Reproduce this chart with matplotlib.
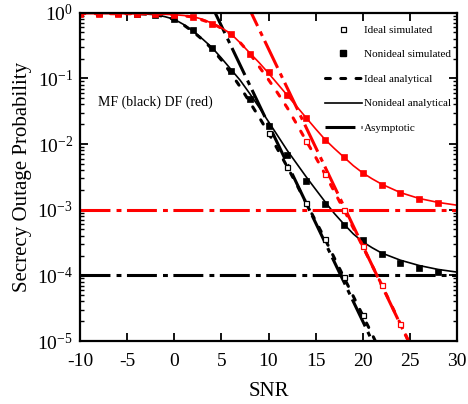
import matplotlib
matplotlib.use("Agg")
import matplotlib.pyplot as plt
from matplotlib.lines import Line2D
from matplotlib.ticker import LogLocator, LogFormatterSciNotation, NullFormatter

plt.rcParams["font.family"] = ["Liberation Serif", "DejaVu Serif"]
plt.rcParams["mathtext.fontset"] = "custom"
plt.rcParams["mathtext.rm"] = "Liberation Serif"
plt.rcParams["mathtext.it"] = "Liberation Serif:italic"

RED = "#ff0000"

# ---- MF (black) ----
snr_curve_mf = [-10, -8, -6, -4, -2, -1, 0, 1, 2, 3, 4, 5, 6, 7, 8, 9, 10, 11, 12, 13,
                14, 15, 16, 17, 18, 19, 20, 21, 22, 24, 26, 28, 30]
mf_nonideal_analytical = [1.0, 0.995, 0.989, 0.973, 0.933, 0.871, 0.794, 0.661, 0.525, 0.398,
                          0.295, 0.204, 0.138, 0.0933, 0.0589, 0.0363, 0.0219, 0.0132, 7.94e-3,
                          5.01e-3, 3.16e-3, 2.04e-3, 1.32e-3, 8.71e-4, 6.03e-4, 4.27e-4, 3.24e-4,
                          2.63e-4, 2.19e-4, 1.70e-4, 1.41e-4, 1.23e-4, 1.12e-4]

snr_ideal_mf = [-10, -8, -6, -4, -2, -1, 0, 1, 2, 3, 4, 5, 6, 7, 8, 9, 10, 11, 12, 13, 14,
                15, 16, 17, 18, 19, 20, 21, 22]
mf_ideal_analytical = [1.0, 0.995, 0.989, 0.973, 0.93, 0.87, 0.79, 0.65, 0.513, 0.389, 0.282,
                       0.19, 0.12, 0.0741, 0.0437, 0.0257, 0.0148, 8.13e-3, 4.47e-3, 2.40e-3,
                       1.26e-3, 6.76e-4, 3.55e-4, 1.82e-4, 9.33e-5, 4.79e-5, 2.45e-5, 1.26e-5,
                       6.31e-6]

snr_sim = [-10, -8, -6, -4, -2, 0, 2, 4, 6, 8, 10, 12, 14, 16, 18, 20, 22, 24, 26, 28]
mf_nonideal_sim = [1.0, 0.995, 0.99, 0.97, 0.92, 0.79, 0.54, 0.29, 0.129, 0.0479, 0.0186,
                   6.9e-3, 2.7e-3, 1.2e-3, 5.9e-4, 3.5e-4, 2.14e-4, 1.55e-4, 1.29e-4, 1.12e-4]

snr_ideal_sim_mf = [10, 12, 14, 16, 18, 20]
mf_ideal_sim = [0.0148, 4.47e-3, 1.26e-3, 3.6e-4, 9.3e-5, 2.5e-5]

snr_asym_mf = [4, 8, 12, 16, 20, 22]
mf_asymptotic = [1.26, 0.0794, 5.0e-3, 3.16e-4, 2.0e-5, 5.0e-6]
mf_floor = 1e-4

# ---- DF (red) ----
snr_curve_df = [-10, -8, -6, -4, -2, 0, 1, 2, 3, 4, 5, 6, 7, 8, 9, 10, 11, 12, 13, 14, 15,
                16, 17, 18, 19, 20, 21, 22, 24, 26, 28, 30]
df_nonideal_analytical = [0.966, 0.966, 0.965, 0.963, 0.958, 0.933, 0.908, 0.871, 0.794, 0.692,
                          0.589, 0.479, 0.347, 0.245, 0.174, 0.120, 0.0813, 0.055, 0.0372,
                          0.0251, 0.017, 0.0117, 8.51e-3, 6.31e-3, 4.68e-3, 3.63e-3, 2.95e-3,
                          2.45e-3, 1.82e-3, 1.48e-3, 1.29e-3, 1.17e-3]

snr_ideal_df = [-10, -8, -6, -4, -2, 0, 2, 4, 5, 6, 7, 8, 9, 10, 11, 12, 13, 14, 15, 16, 17,
                18, 19, 20, 21, 22, 23, 24, 25]
df_ideal_analytical = [0.966, 0.966, 0.965, 0.963, 0.958, 0.93, 0.86, 0.69, 0.58, 0.47, 0.35,
                       0.24, 0.151, 0.0955, 0.0589, 0.0355, 0.02, 0.0112, 6.31e-3, 3.47e-3,
                       1.86e-3, 1.0e-3, 5.25e-4, 2.75e-4, 1.41e-4, 7.24e-5, 3.63e-5, 1.82e-5,
                       9.12e-6]

df_nonideal_sim = [0.955, 0.955, 0.955, 0.955, 0.95, 0.93, 0.87, 0.68, 0.48, 0.234, 0.126,
                   0.0562, 0.0245, 0.0115, 6.3e-3, 3.63e-3, 2.4e-3, 1.78e-3, 1.45e-3, 1.26e-3]

snr_ideal_sim_df = [14, 16, 18, 20, 22, 24]
df_ideal_sim = [0.0112, 3.47e-3, 1.0e-3, 2.75e-4, 7.2e-5, 1.8e-5]

snr_asym_df = [6, 8, 12, 16, 20, 24, 26]
df_asymptotic = [4.47, 1.12, 0.0708, 4.47e-3, 2.82e-4, 1.78e-5, 4.47e-6]
df_floor = 1e-3

x_ticks = [-10, -5, 0, 5, 10, 15, 20, 25, 30]

# line styles
LW_THICK = 2.2
DOTS = (0, (1.6, 3.4))
DASHDOT = (0, (9.8, 2.0, 1.6, 1.8))

fig = plt.figure(figsize=(4.68, 4.04), dpi=100)
ax = fig.add_axes([80 / 468, 1 - 341 / 404, (457 - 80) / 468, (341 - 12.7) / 404])


def draw(color, snr_c, nonideal, snr_i, ideal, sim_nonideal, snr_is, sim_ideal,
         snr_a, asym, floor):
    ax.plot(snr_c, nonideal, color=color, lw=1.2, solid_capstyle="butt")
    ax.plot(snr_i, ideal, color=color, lw=LW_THICK, linestyle=DOTS, dash_capstyle="round")
    ax.plot(snr_a, asym, color=color, lw=LW_THICK, linestyle=DASHDOT, dash_capstyle="butt")
    ax.plot([x_ticks[0], x_ticks[-1]], [floor, floor], color=color, lw=LW_THICK,
            linestyle=DASHDOT, dash_capstyle="butt")
    ax.plot(snr_is, sim_ideal, linestyle="none", marker="s", ms=3.6, mfc="white",
            mec=color, mew=0.9)
    ax.plot(snr_sim, sim_nonideal, linestyle="none", marker="s", ms=4.2, mfc=color,
            mec=color, mew=0.5)


draw("black", snr_curve_mf, mf_nonideal_analytical, snr_ideal_mf, mf_ideal_analytical,
     mf_nonideal_sim, snr_ideal_sim_mf, mf_ideal_sim, snr_asym_mf, mf_asymptotic, mf_floor)
draw(RED, snr_curve_df, df_nonideal_analytical, snr_ideal_df, df_ideal_analytical,
     df_nonideal_sim, snr_ideal_sim_df, df_ideal_sim, snr_asym_df, df_asymptotic, df_floor)

ax.set_yscale("log")
ax.set_xlim(-10, 30)
ax.set_ylim(1e-5, 1)
ax.set_xticks(x_ticks)
ax.set_xticklabels([str(t) for t in x_ticks])
ax.yaxis.set_major_locator(LogLocator(base=10, numticks=10))
ax.yaxis.set_major_formatter(LogFormatterSciNotation())
ax.yaxis.set_minor_locator(LogLocator(base=10, subs=range(2, 10), numticks=10))
ax.yaxis.set_minor_formatter(NullFormatter())

ax.tick_params(axis="both", which="major", direction="in", length=6, width=1.3,
               labelsize=14, top=True, right=True, pad=5)
ax.tick_params(axis="x", which="major", pad=9)
ax.tick_params(axis="y", which="minor", direction="in", length=3, width=1.0,
               left=True, right=True)
ax.tick_params(axis="x", which="minor", bottom=False, top=False)
for s in ax.spines.values():
    s.set_linewidth(1.6)

ax.set_xlabel("SNR", fontsize=15, labelpad=8)
ax.set_ylabel("Secrecy Outage Probability", fontsize=15, labelpad=4)

ax.text(-8.1, 0.044, "MF (black) DF (red)", fontsize=10, va="center", ha="left")

handles = [
    Line2D([], [], linestyle="none", marker="s", ms=3.6, mfc="white", mec="black", mew=0.9),
    Line2D([], [], linestyle="none", marker="s", ms=4.2, mfc="black", mec="black"),
    Line2D([], [], color="black", lw=LW_THICK, linestyle=DOTS, dash_capstyle="round"),
    Line2D([], [], color="black", lw=1.2),
    Line2D([], [], color="black", lw=LW_THICK, linestyle=DASHDOT),
]
labels = ["Ideal simulated", "Nonideal simulated", "Ideal analytical",
          "Nonideal analytical", "Asymptotic"]
leg = fig.legend(handles, labels, loc="upper left", bbox_to_anchor=(325 / 468, 1 - 25 / 404),
                 frameon=False, fontsize=8, handlelength=3.3, handletextpad=0.2,
                 labelspacing=1.33, borderpad=0, borderaxespad=0)

fig.savefig("out.png", dpi=100)
